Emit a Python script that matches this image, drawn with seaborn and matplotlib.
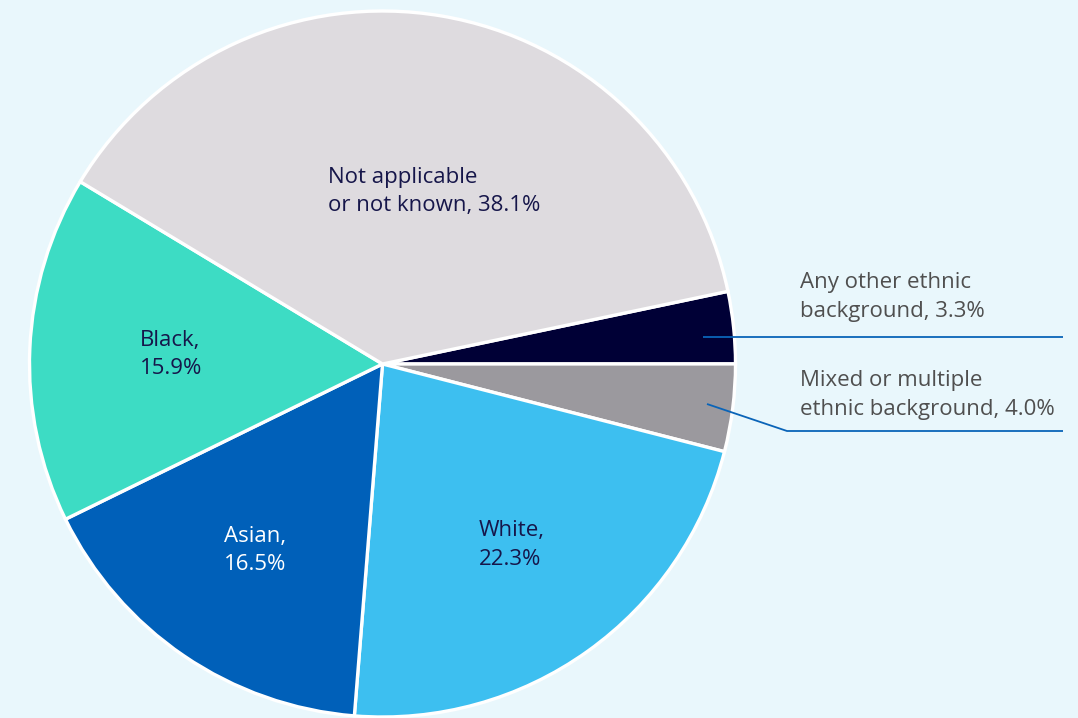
import numpy as np
import matplotlib
matplotlib.use("Agg")
import matplotlib.pyplot as plt
import seaborn as sns

# Ethnicity breakdown, drawn clockwise from the small slices on the right
categories = [
    "Any other ethnic\nbackground",
    "Mixed or multiple\nethnic background",
    "White",
    "Asian",
    "Black",
    "Not applicable\nor not known",
]
shares = [3.3, 4.0, 22.3, 16.5, 15.9, 38.1]
slice_colors = ["#000036", "#9b999e", "#3dbff0", "#0060b9", "#3ddcc4", "#dedbdf"]

sns.set_theme(style="white")
plt.rcParams["font.family"] = ["Open Sans", "DejaVu Sans"]

BG = "#e9f7fc"
W, H = 1078, 718
fig = plt.figure(figsize=(W / 100, H / 100), dpi=100, facecolor=BG)
ax = fig.add_axes([0, 0, 1, 1])
ax.set_facecolor(BG)

cx, cy, r = 382.5, H - 364, 353
wedges, _ = ax.pie(
    shares,
    colors=slice_colors,
    startangle=360 * shares[0] / 100,
    counterclock=False,
    center=(cx, cy),
    radius=r,
    wedgeprops=dict(edgecolor="white", linewidth=2.4),
)

ax.set_xlim(0, W)
ax.set_ylim(0, H)
ax.set_aspect("equal")
ax.axis("off")

navy = "#16164a"
grey = "#4f4f4f"
fs = 16
ls = 1.45

# labels inside the larger slices sit near each slice's mid-angle
# (radius fraction, angle nudge in degrees, colour)
inside = {
    2: (0.63, 0, navy),
    3: (0.64, 0, "white"),
    4: (0.60, 0, navy),
    5: (0.51, -7, navy),
}
for i, (frac, nudge, col) in inside.items():
    w = wedges[i]
    mid = np.deg2rad((w.theta1 + w.theta2) / 2 + nudge)
    x = cx + frac * r * np.cos(mid)
    y = cy + frac * r * np.sin(mid)
    cat = categories[i]
    sep = " " if "\n" in cat else "\n"
    ax.text(x, y, f"{cat},{sep}{shares[i]:.1f}%", ha="center", va="center",
            multialignment="left", color=col, fontsize=fs, linespacing=ls)

# the two narrow slices are labelled outside, with leader lines
line_col = "#0a64b8"
ax.text(800, H - 297, f"{categories[0]}, {shares[0]:.1f}%", ha="left",
        va="center", color=grey, fontsize=fs, linespacing=ls)
ax.text(800, H - 395, f"{categories[1]}, {shares[1]:.1f}%", ha="left",
        va="center", color=grey, fontsize=fs, linespacing=ls)
ax.plot([703, 1063], [H - 337, H - 337], color=line_col, lw=1.3,
        solid_capstyle="butt")
ax.plot([707, 787, 1063], [H - 404, H - 431, H - 431], color=line_col, lw=1.3,
        solid_capstyle="butt")

fig.savefig("out.png", dpi=100, facecolor=BG)
